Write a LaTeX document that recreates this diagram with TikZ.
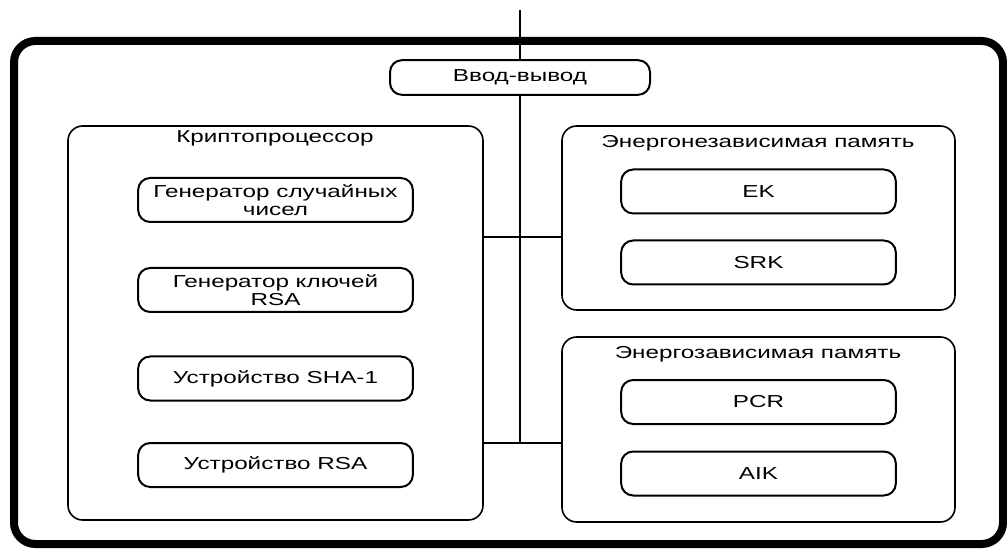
\documentclass[tikz,border=0pt]{standalone}
\usepackage{fontspec}
\setmainfont[FakeStretch=1.4]{Liberation Sans}
\usetikzlibrary{fit}

\tikzset{
  frame/.style={draw, line width=6pt, rounded corners=16pt, inner sep=0pt},
  group/.style={draw, line width=1.2pt, rounded corners=11pt, inner sep=0pt},
  unit/.style={draw, line width=1.5pt, rounded corners=9pt, inner sep=0pt,
    minimum width=206pt, minimum height=33pt,
    align=center, font=\fontsize{13}{13}\selectfont},
  title/.style={font=\fontsize{13}{13}\selectfont, inner sep=0pt},
  bus/.style={draw, line width=0.8pt}
}

\begin{document}
\begin{tikzpicture}[x=0.75pt, y=-0.75pt]
\useasboundingbox (0,0) rectangle (1007,552);

% Outer frame
\node[frame, fit={(14,41) (1003,544)}] (tpm) {};

% Input/output
\node[unit, minimum width=195pt, minimum height=26pt] (io) at (520,77.5) {Ввод-вывод};
\coordinate (ext) at (520,10);

% --- Cryptoprocessor ---
\node[group, fit={(68,126) (483,520)}] (crypto) {};
\node[title] (cryptotitle) at (275,138) {Криптопроцессор};
\node[unit] (rng) at (275.5,200) {Генератор случайных\\чисел};
\node[unit] (keygen) at (275.5,290) {Генератор ключей\\RSA};
\node[unit] (sha) at (275.5,378.5) {Устройство SHA-1};
\node[unit] (rsa) at (275.5,465) {Устройство RSA};

% --- Non-volatile memory ---
\node[group, fit={(562,126) (955,310)}] (nvmem) {};
\node[title] (nvtitle) at (758,143) {Энергонезависимая память};
\node[unit] (ek) at (758.5,191.5) {EK};
\node[unit] (srk) at (758.5,262.5) {SRK};

% --- Volatile memory ---
\node[group, fit={(562,337) (955,522)}] (vmem) {};
\node[title] (vtitle) at (758,354) {Энергозависимая память};
\node[unit] (pcr) at (758.5,402) {PCR};
\node[unit] (aik) at (758.5,473.5) {AIK};

% Bus
\coordinate (busend) at (520,443);
\draw[bus] (ext) -- (io.north);
\draw[bus] (io.south) -- (busend);
\draw[bus] (crypto.east |- 0,237) -- (nvmem.west |- 0,237);
\draw[bus] (crypto.east |- busend) -- (vmem.west |- busend);

\end{tikzpicture}
\end{document}
